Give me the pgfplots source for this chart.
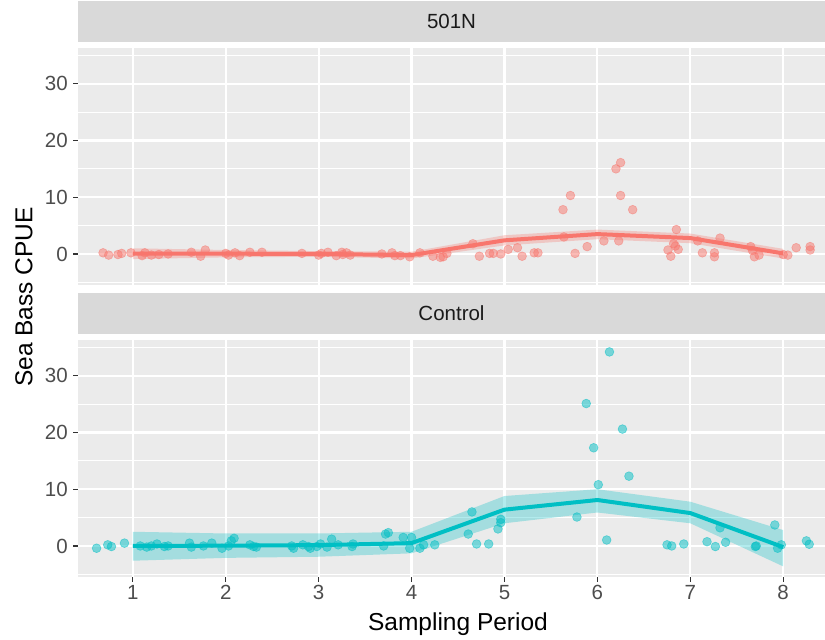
\documentclass[border=0pt]{standalone}
\usepackage{pgfplots}
\pgfplotsset{compat=1.18}
\usepackage{fontspec}
\setmainfont{Liberation Sans}
\definecolor{gRed}{HTML}{F8766D}
\definecolor{gTeal}{HTML}{00BFC4}
\definecolor{panelbg}{HTML}{EBEBEB}
\definecolor{stripbg}{HTML}{D9D9D9}
\definecolor{ticklab}{HTML}{4D4D4D}
\definecolor{tickcol}{HTML}{333333}
\definecolor{striptext}{HTML}{1A1A1A}

\pgfplotsset{
 facet/.style={
  scale only axis, width=747pt, height=237pt,
  xmin=0.41, xmax=8.45, ymin=-5.47, ymax=36.3,
  axis background/.style={fill=panelbg},
  axis line style={draw=none},
  xtick={1,...,8}, ytick={0,10,20,30},
  minor ytick={-5,5,15,25,35},
  grid=both,
  major grid style={white, line width=2.2pt},
  minor grid style={white, line width=1.1pt},
  minor tick length=0pt,
  tick align=outside, major tick length=5pt,
  tick style={tickcol, line width=1.1pt},
  xtick pos=bottom, ytick pos=left,
  ticklabel style={font=\fontsize{20.5}{20.5}\selectfont, text=ticklab},
  yticklabel style={inner sep=5pt},
  /pgf/number format/assume math mode=true,
  title style={at={(0.5,1)}, anchor=south, yshift=0pt, fill=stripbg,
    minimum width=747pt, minimum height=41pt, inner sep=0pt,
    text=striptext, font=\fontsize{20.5}{20.5}\selectfont},
 },
 pts/.style={only marks, mark=*, mark size=4.4pt,
   mark options={draw=#1, fill=#1, line width=0.6pt, fill opacity=0.5, draw opacity=0.5}},
}

\pgfplotstableread{
x y
0.68 0.2
0.74 -0.2
0.84 -0.1
0.88 0.1
0.98 0.2
1.10 -0.3
1.13 0.2
1.20 -0.2
1.28 -0.1
1.38 0.0
1.63 0.3
1.73 -0.4
1.78 0.7
2.00 0.1
2.03 -0.2
2.10 0.2
2.15 -0.3
2.26 0.3
2.39 0.3
2.82 0.1
3.00 -0.2
3.03 0.1
3.10 0.3
3.19 -0.3
3.25 0.3
3.26 -0.1
3.30 0.2
3.34 -0.2
3.68 0.0
3.79 0.2
3.82 -0.3
3.88 -0.3
3.98 -0.5
4.09 0.2
4.23 -0.4
4.31 -0.6
4.34 -0.5
4.38 0.1
4.66 1.8
4.73 -0.4
4.84 0.1
4.88 0.1
4.96 0.0
5.04 0.8
5.14 1.1
5.19 -0.4
5.32 0.2
5.36 0.2
5.63 7.8
5.71 10.3
5.64 3.0
5.76 0.1
5.89 1.3
6.07 2.3
6.20 15.0
6.25 16.1
6.25 10.3
6.23 2.3
6.38 7.8
6.76 0.7
6.79 -0.4
6.82 1.8
6.85 4.3
6.84 1.4
6.87 0.8
7.08 2.3
7.13 0.2
7.26 0.2
7.26 -0.5
7.32 2.8
7.65 1.3
7.67 0.6
7.69 -0.5
7.74 -0.2
8.00 -0.1
8.05 -0.2
8.14 1.1
8.29 1.3
8.29 0.7
}\ptsA

\pgfplotstableread{
x y
0.61 -0.4
0.73 0.2
0.77 -0.1
0.91 0.5
1.08 0.0
1.15 -0.2
1.20 0.0
1.26 0.35
1.34 -0.1
1.38 0.0
1.61 0.5
1.63 -0.2
1.76 0.0
1.85 0.5
1.96 -0.4
2.03 0.0
2.06 0.9
2.09 1.35
2.26 0.2
2.30 -0.1
2.33 -0.2
2.71 0.0
2.73 -0.4
2.83 0.2
2.89 -0.1
2.91 -0.4
2.98 -0.1
3.02 0.35
3.09 -0.2
3.14 1.2
3.21 0.2
3.36 -0.1
3.37 0.35
3.70 0.0
3.72 2.1
3.75 2.35
3.91 1.5
3.98 -0.4
4.00 1.5
4.09 -0.4
4.13 0.2
4.25 0.2
4.61 2.1
4.65 6.0
4.70 0.35
4.83 0.35
4.93 3.0
4.96 4.7
4.96 4.1
5.78 5.1
5.88 25.1
5.96 17.3
6.01 10.8
6.10 1.05
6.13 34.2
6.27 20.6
6.34 12.3
6.75 0.2
6.80 0.0
6.93 0.35
7.18 0.75
7.27 -0.1
7.32 3.2
7.38 0.65
7.70 -0.1
7.71 0.0
7.91 3.7
7.94 -0.4
7.98 0.2
8.25 0.9
8.28 0.3
}\ptsB

\begin{document}
\begin{tikzpicture}[x=1pt,y=1pt]
\useasboundingbox (0,0) rectangle (825,640);

% Top facet: 501N
\begin{axis}[facet, at={(78pt,355pt)}, anchor=south west,
  title={501N}, xticklabels={}, xtick style={draw=none}]
  \addplot[pts=gRed] table {\ptsA};
  \addplot[draw=none, fill=gRed, fill opacity=0.3] coordinates {
    (1,1.0) (2,0.7) (3,0.5) (4,0.4) (5,3.3) (6,4.3) (7,3.6) (8,0.9)
    (8,-0.8) (7,1.9) (6,2.6) (5,1.5) (4,-0.8) (3,-0.5) (2,-0.6) (1,-0.9)} -- cycle;
  \addplot[gRed, line width=4pt] coordinates {
    (1,0.05) (2,0.05) (3,0.0) (4,-0.2) (5,2.4) (6,3.5) (7,2.8) (8,0.1)};
\end{axis}

% Bottom facet: Control
\begin{axis}[facet, at={(78pt,63pt)}, anchor=south west, title={Control}]
  \addplot[pts=gTeal] table {\ptsB};
  \addplot[draw=none, fill=gTeal, fill opacity=0.3] coordinates {
    (1,2.5) (2,2.2) (3,2.2) (4,2.5) (5,8.8) (6,10.0) (7,7.8) (8,2.8)
    (8,-3.6) (7,4.0) (6,5.9) (5,4.0) (4,-1.3) (3,-1.9) (2,-2.1) (1,-2.6)} -- cycle;
  \addplot[gTeal, line width=4pt] coordinates {
    (1,0.0) (2,0.05) (3,0.15) (4,0.5) (5,6.4) (6,8.1) (7,5.8) (8,-0.2)};
\end{axis}

\node[rotate=90, font=\fontsize{24.5}{24.5}\selectfont] at (24,343) {Sea Bass CPUE};
\node[font=\fontsize{24.5}{24.5}\selectfont] at (458,16) {Sampling Period};
\end{tikzpicture}
\end{document}
